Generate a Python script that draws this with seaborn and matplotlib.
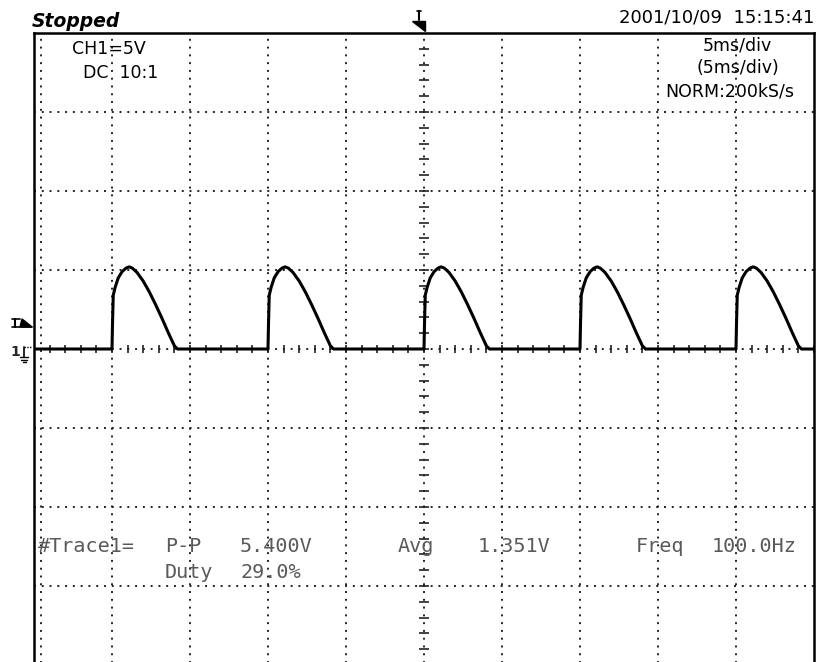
import numpy as np
import pandas as pd
import matplotlib
matplotlib.use("Agg")
import matplotlib.pyplot as plt
import seaborn as sns
from matplotlib.patches import Polygon
from matplotlib.lines import Line2D

# ---------------- data ----------------
# one pulse: time offset from the trigger edge (ms) and voltage (V)
pulse_t = [0.0, 0.03, 0.08, 0.2, 0.4, 0.65, 0.9, 1.1, 1.3, 1.6, 2.0, 2.4, 2.8, 3.2, 3.6, 4.0, 4.2]
pulse_v = [0.0, 1.5, 3.4, 3.9, 4.5, 4.9, 5.12, 5.2, 5.12, 4.85, 4.3, 3.6, 2.8, 1.95, 1.05, 0.2, 0.0]
pulse_starts = [-20, -10, 0, 10, 20]          # ms
time_range = [-25, 25]                        # ms (10 div x 5 ms/div)
volt_range = [-20, 20]                        # V  (8 div x 5 V/div)
trigger_level = 1.65                          # V

header_left = "Stopped"
header_right = "2001/10/09  15:15:41"
ch_info = ["CH1=5V", "DC  10:1"]
tb_info = ["5ms/div", "(5ms/div)", "NORM:200kS/s"]
meas_row1 = ["#Trace1=", "P-P", "5.400V", "Avg", "1.351V", "Freq", "100.0Hz"]
meas_row2 = ["Duty", "29.0%"]

# ---------------- build trace ----------------
t_all = [time_range[0]]
v_all = [0.0]
for s in pulse_starts:
    t_all += [s + dt for dt in pulse_t]
    v_all += list(pulse_v)
t_all.append(time_range[1])
v_all.append(0.0)
df = pd.DataFrame({"t": t_all, "v": v_all})

# ---------------- figure ----------------
sns.set_style("white")
plt.rcParams["font.family"] = ["DejaVu Sans"]
W, H = 819, 662
fig = plt.figure(figsize=(W / 100, H / 100), dpi=100)
fig.patch.set_facecolor("white")


def fx(px):
    return px / W


def fy(py):
    return 1 - py / H


ax = fig.add_axes([34 / W, (H - 665) / H, 780 / W, 632 / H])
ax.set_xlim(*time_range)
ax.set_ylim(*volt_range)
ax.set_facecolor("white")

dot = (0, (1, 3.0))
for xv in np.arange(time_range[0] + 5, time_range[1], 5):
    ax.axvline(xv, color="#222222", lw=1.4, ls=dot, zorder=1)
for yv in np.arange(volt_range[0] + 5, volt_range[1], 5):
    ax.axhline(yv, color="#222222", lw=1.4, ls=dot, zorder=1)
ax.axvline(time_range[0] + 0.45, color="#222222", lw=1.4, ls=dot, zorder=1)

# centre-axis minor ticks
xt = np.arange(time_range[0], time_range[1] + 0.01, 1.0)
ax.plot(xt, np.zeros_like(xt), ls="none", marker="|", ms=6, mew=1.2, color="#222222", zorder=2)
yt = np.arange(volt_range[0], volt_range[1] + 0.01, 1.0)
ax.plot(np.zeros_like(yt), yt, ls="none", marker="_", ms=7, mew=1.2, color="#222222", zorder=2)

sns.lineplot(data=df, x="t", y="v", ax=ax, color="black", lw=2.2,
             sort=False, estimator=None, legend=False, zorder=3)

ax.set_xticks([])
ax.set_yticks([])
ax.set_xlabel("")
ax.set_ylabel("")
for side in ["top", "left", "right"]:
    ax.spines[side].set_visible(True)
    ax.spines[side].set_color("black")
    ax.spines[side].set_linewidth(1.8)
ax.spines["bottom"].set_visible(False)

# ---------------- texts ----------------
fig.text(fx(32), fy(27), header_left, fontsize=13.5, fontweight="bold",
         fontstyle="italic", ha="left", va="baseline", color="black")
fig.text(fx(814), fy(17.5), header_right, fontsize=13, ha="right", va="center", color="black")
fig.text(fx(72), fy(48.5), ch_info[0], fontsize=12.5, ha="left", va="center", color="black")
fig.text(fx(83), fy(73), ch_info[1], fontsize=12.5, ha="left", va="center", color="black")
fig.text(fx(737), fy(45), tb_info[0], fontsize=12.5, ha="center", va="center", color="black")
fig.text(fx(738), fy(68), tb_info[1], fontsize=12.5, ha="center", va="center", color="black")
fig.text(fx(730), fy(92), tb_info[2], fontsize=12.5, ha="center", va="center", color="black")

mono = ["DejaVu Sans Mono"]
row1_x = [38, 165, 240, 398, 478, 636, 712]
for s, x in zip(meas_row1, row1_x):
    fig.text(fx(x), fy(547), s, fontsize=14.5, family=mono, ha="left", va="center", color="#5a5a5a")
row2_x = [165, 240]
for s, x in zip(meas_row2, row2_x):
    fig.text(fx(x), fy(572), s, fontsize=14.5, family=mono, ha="left", va="center", color="#5a5a5a")

# ---------------- scope markers ----------------
# top trigger-position marker
fig.add_artist(Polygon([(fx(412), fy(21)), (fx(425), fy(21)), (fx(425), fy(31))],
                       closed=True, color="black", transform=fig.transFigure))
fig.add_artist(Line2D([fx(419), fx(419)], [fy(11), fy(20)], color="black", lw=1.5,
                      transform=fig.transFigure))
fig.add_artist(Line2D([fx(416.5), fx(421.5)], [fy(11), fy(11)], color="black", lw=1.2,
                      transform=fig.transFigure))

# left trigger-level marker
ly = 349 - trigger_level / 5 * 79
fig.add_artist(Polygon([(fx(20), fy(ly + 4)), (fx(32), fy(ly + 4)), (fx(22), fy(ly - 4))],
                       closed=True, color="black", transform=fig.transFigure))
fig.add_artist(Line2D([fx(15), fx(15)], [fy(ly - 4), fy(ly + 4)], color="black", lw=1.5,
                      transform=fig.transFigure))
fig.add_artist(Line2D([fx(12), fx(20)], [fy(ly - 4), fy(ly - 4)], color="black", lw=1.2,
                      transform=fig.transFigure))
fig.add_artist(Line2D([fx(12), fx(32)], [fy(ly + 4), fy(ly + 4)], color="black", lw=1.2,
                      transform=fig.transFigure))

# ground marker "1"
fig.text(fx(15), fy(352), "1", fontsize=10, fontweight="bold", ha="center", va="center")
fig.add_artist(Line2D([fx(24), fx(24)], [fy(347), fy(357)], color="black", lw=1.2,
                      transform=fig.transFigure))
for i, w in enumerate([4, 2.8, 1.5]):
    yy = 357 + i * 2.5
    fig.add_artist(Line2D([fx(24 - w), fx(24 + w)], [fy(yy), fy(yy)], color="black", lw=1.0,
                          transform=fig.transFigure))
fig.add_artist(Line2D([fx(24), fx(31)], [fy(347), fy(347)], color="black", lw=1.0, ls=(0, (1, 1)),
                      transform=fig.transFigure))

fig.savefig("out.png", dpi=100, facecolor="white")
